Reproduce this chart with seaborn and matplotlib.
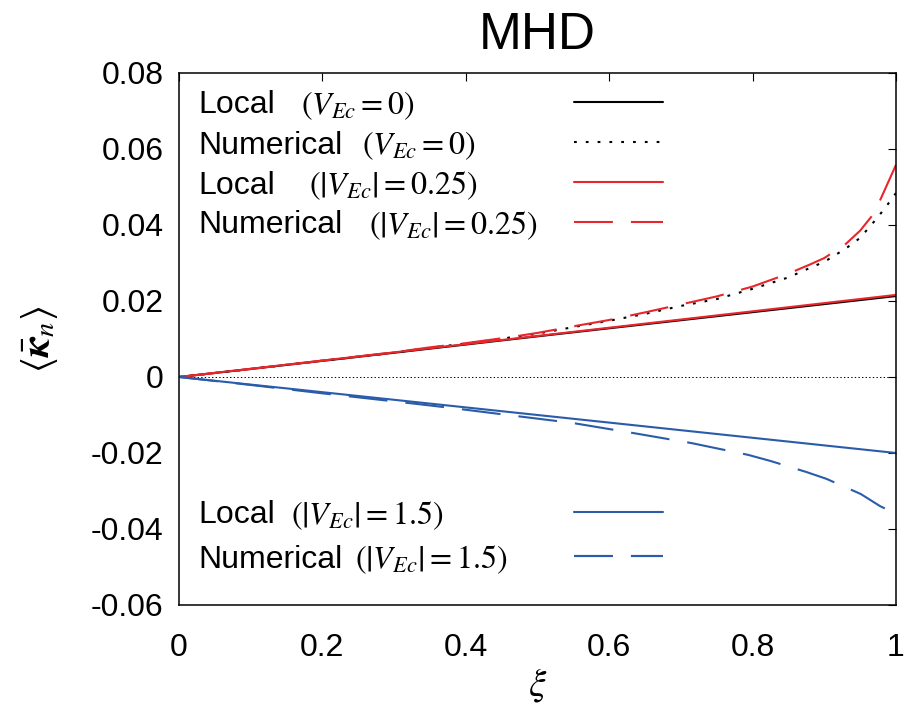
import matplotlib
matplotlib.use("Agg")
import matplotlib.pyplot as plt
import seaborn as sns
import pandas as pd

# values
xi_local = [0, 0.25, 0.5, 0.75, 1.0]
local_v0 = [0, 0.0053, 0.0107, 0.0160, 0.0213]
local_v025 = [0, 0.0054, 0.0108, 0.0162, 0.0216]
local_v15 = [0, -0.0050, -0.0100, -0.0150, -0.0200]

xi_num = [0, 0.1, 0.2, 0.3, 0.35, 0.4, 0.466, 0.5, 0.558, 0.6, 0.65, 0.7, 0.75,
          0.8, 0.85, 0.88, 0.9, 0.93, 0.95, 0.97, 0.985, 1.0]
num_v0 = [0, 0.0021, 0.0043, 0.0064, 0.0077, 0.0088, 0.0105, 0.0114, 0.0134, 0.0148,
          0.0166, 0.0187, 0.0205, 0.0232, 0.0262, 0.0287, 0.0303, 0.0338, 0.0366,
          0.0410, 0.0445, 0.0484]
num_v025 = [0, 0.0021, 0.0043, 0.0065, 0.0078, 0.0089, 0.0106, 0.0116, 0.0136, 0.0150,
            0.0170, 0.0191, 0.0212, 0.0238, 0.0272, 0.0296, 0.0313, 0.0350, 0.0385,
            0.0432, 0.0495, 0.0558]

xi_num15 = [0, 0.1, 0.2, 0.332, 0.382, 0.45, 0.549, 0.632, 0.715, 0.794, 0.825,
            0.875, 0.903, 0.951, 0.978, 1.0]
num_v15 = [0, -0.0021, -0.0043, -0.0071, -0.0082, -0.0098, -0.0121, -0.0147, -0.0174,
           -0.0205, -0.0221, -0.0250, -0.0268, -0.0308, -0.0340, -0.0360]

xticks = [0, 0.2, 0.4, 0.6, 0.8, 1.0]
xtick_labels = ["0", "0.2", "0.4", "0.6", "0.8", "1"]
yticks = [-0.06, -0.04, -0.02, 0, 0.02, 0.04, 0.06, 0.08]
ytick_labels = ["-0.06", "-0.04", "-0.02", "0", "0.02", "0.04", "0.06", "0.08"]

names = ["Local", "Numerical", "Local", "Numerical", "Local", "Numerical"]
maths = [r"$\left(V_{Ec}=0\right)$", r"$\left(V_{Ec}=0\right)$",
         r"$\left(\left|V_{Ec}\right|=0.25\right)$", r"$\left(\left|V_{Ec}\right|=0.25\right)$",
         r"$\left(\left|V_{Ec}\right|=1.5\right)$", r"$\left(\left|V_{Ec}\right|=1.5\right)$"]

RED = "#e8262c"
BLUE = "#2a5caa"

sns.set_style("white")
plt.rcParams["font.family"] = ["Liberation Sans", "DejaVu Sans"]
plt.rcParams["mathtext.fontset"] = "stix"
plt.rcParams["axes.unicode_minus"] = False
plt.rcParams["lines.scale_dashes"] = False
for key in ["text.color", "axes.labelcolor", "xtick.color", "ytick.color", "axes.edgecolor"]:
    plt.rcParams[key] = "black"

fig = plt.figure(figsize=(9.05, 7.1), dpi=100)
ax = fig.add_axes([0.1978, 0.1479, 0.7922, 0.7493])

series = [
    (xi_local, local_v0, "black", "-"),
    (xi_num, num_v0, "black", (0, (2, 6.5))),
    (xi_local, local_v025, RED, "-"),
    (xi_num, num_v025, RED, (0, (28, 13))),
    (xi_local, local_v15, BLUE, "-"),
    (xi_num15, num_v15, BLUE, (0, (28, 13))),
]

ax.axhline(0, color="black", lw=0.7, ls=(0, (1, 1.6)))
handles = []
for xs, ys, col, ls in series:
    df = pd.DataFrame({"xi": xs, "k": ys})
    sns.lineplot(data=df, x="xi", y="k", ax=ax, color=col, linestyle=ls, lw=1.5)
    handles.append(ax.get_lines()[-1])

ax.set_xlim(0, 1)
ax.set_ylim(-0.06, 0.08)
ax.set_xticks(xticks)
ax.set_xticklabels(xtick_labels)
ax.set_yticks(yticks)
ax.set_yticklabels(ytick_labels)
ax.tick_params(axis="both", direction="in", length=6, width=0.8, labelsize=23,
               top=True, right=True, colors="black")
ax.tick_params(axis="x", pad=20)
ax.tick_params(axis="y", pad=11)
for sp in ax.spines.values():
    sp.set_linewidth(1.1)
    sp.set_color("black")

ax.set_xlabel(r"$\xi$", fontsize=28, labelpad=2)
ax.set_ylabel(r"$\left\langle \bar{\boldsymbol{\kappa}}_n \right\rangle$", fontsize=29, labelpad=22)
ax.set_title("MHD", fontsize=37, pad=17)

# gnuplot-style key: text on the left, sample line on the right
row_y = [0.9455, 0.870, 0.795, 0.720, 0.175, 0.092]
gaps = [19, 14, 25, 19, 12, 9]
for i, h in enumerate(handles):
    t = ax.text(0.0265, row_y[i], names[i], transform=ax.transAxes, fontsize=23,
                va="center_baseline", ha="left")
    ax.annotate(maths[i], xy=(1, 0.5), xycoords=t, xytext=(gaps[i], 0),
                textcoords="offset points", fontsize=23, va="center", ha="left")
    leg = ax.legend(handles=[h], labels=[""], loc="center left",
                    bbox_to_anchor=(0.551, row_y[i]), frameon=False, fontsize=2,
                    handlelength=32, handletextpad=0, borderpad=0, borderaxespad=0)
    ax.add_artist(leg)

fig.savefig("out.png", dpi=100)
